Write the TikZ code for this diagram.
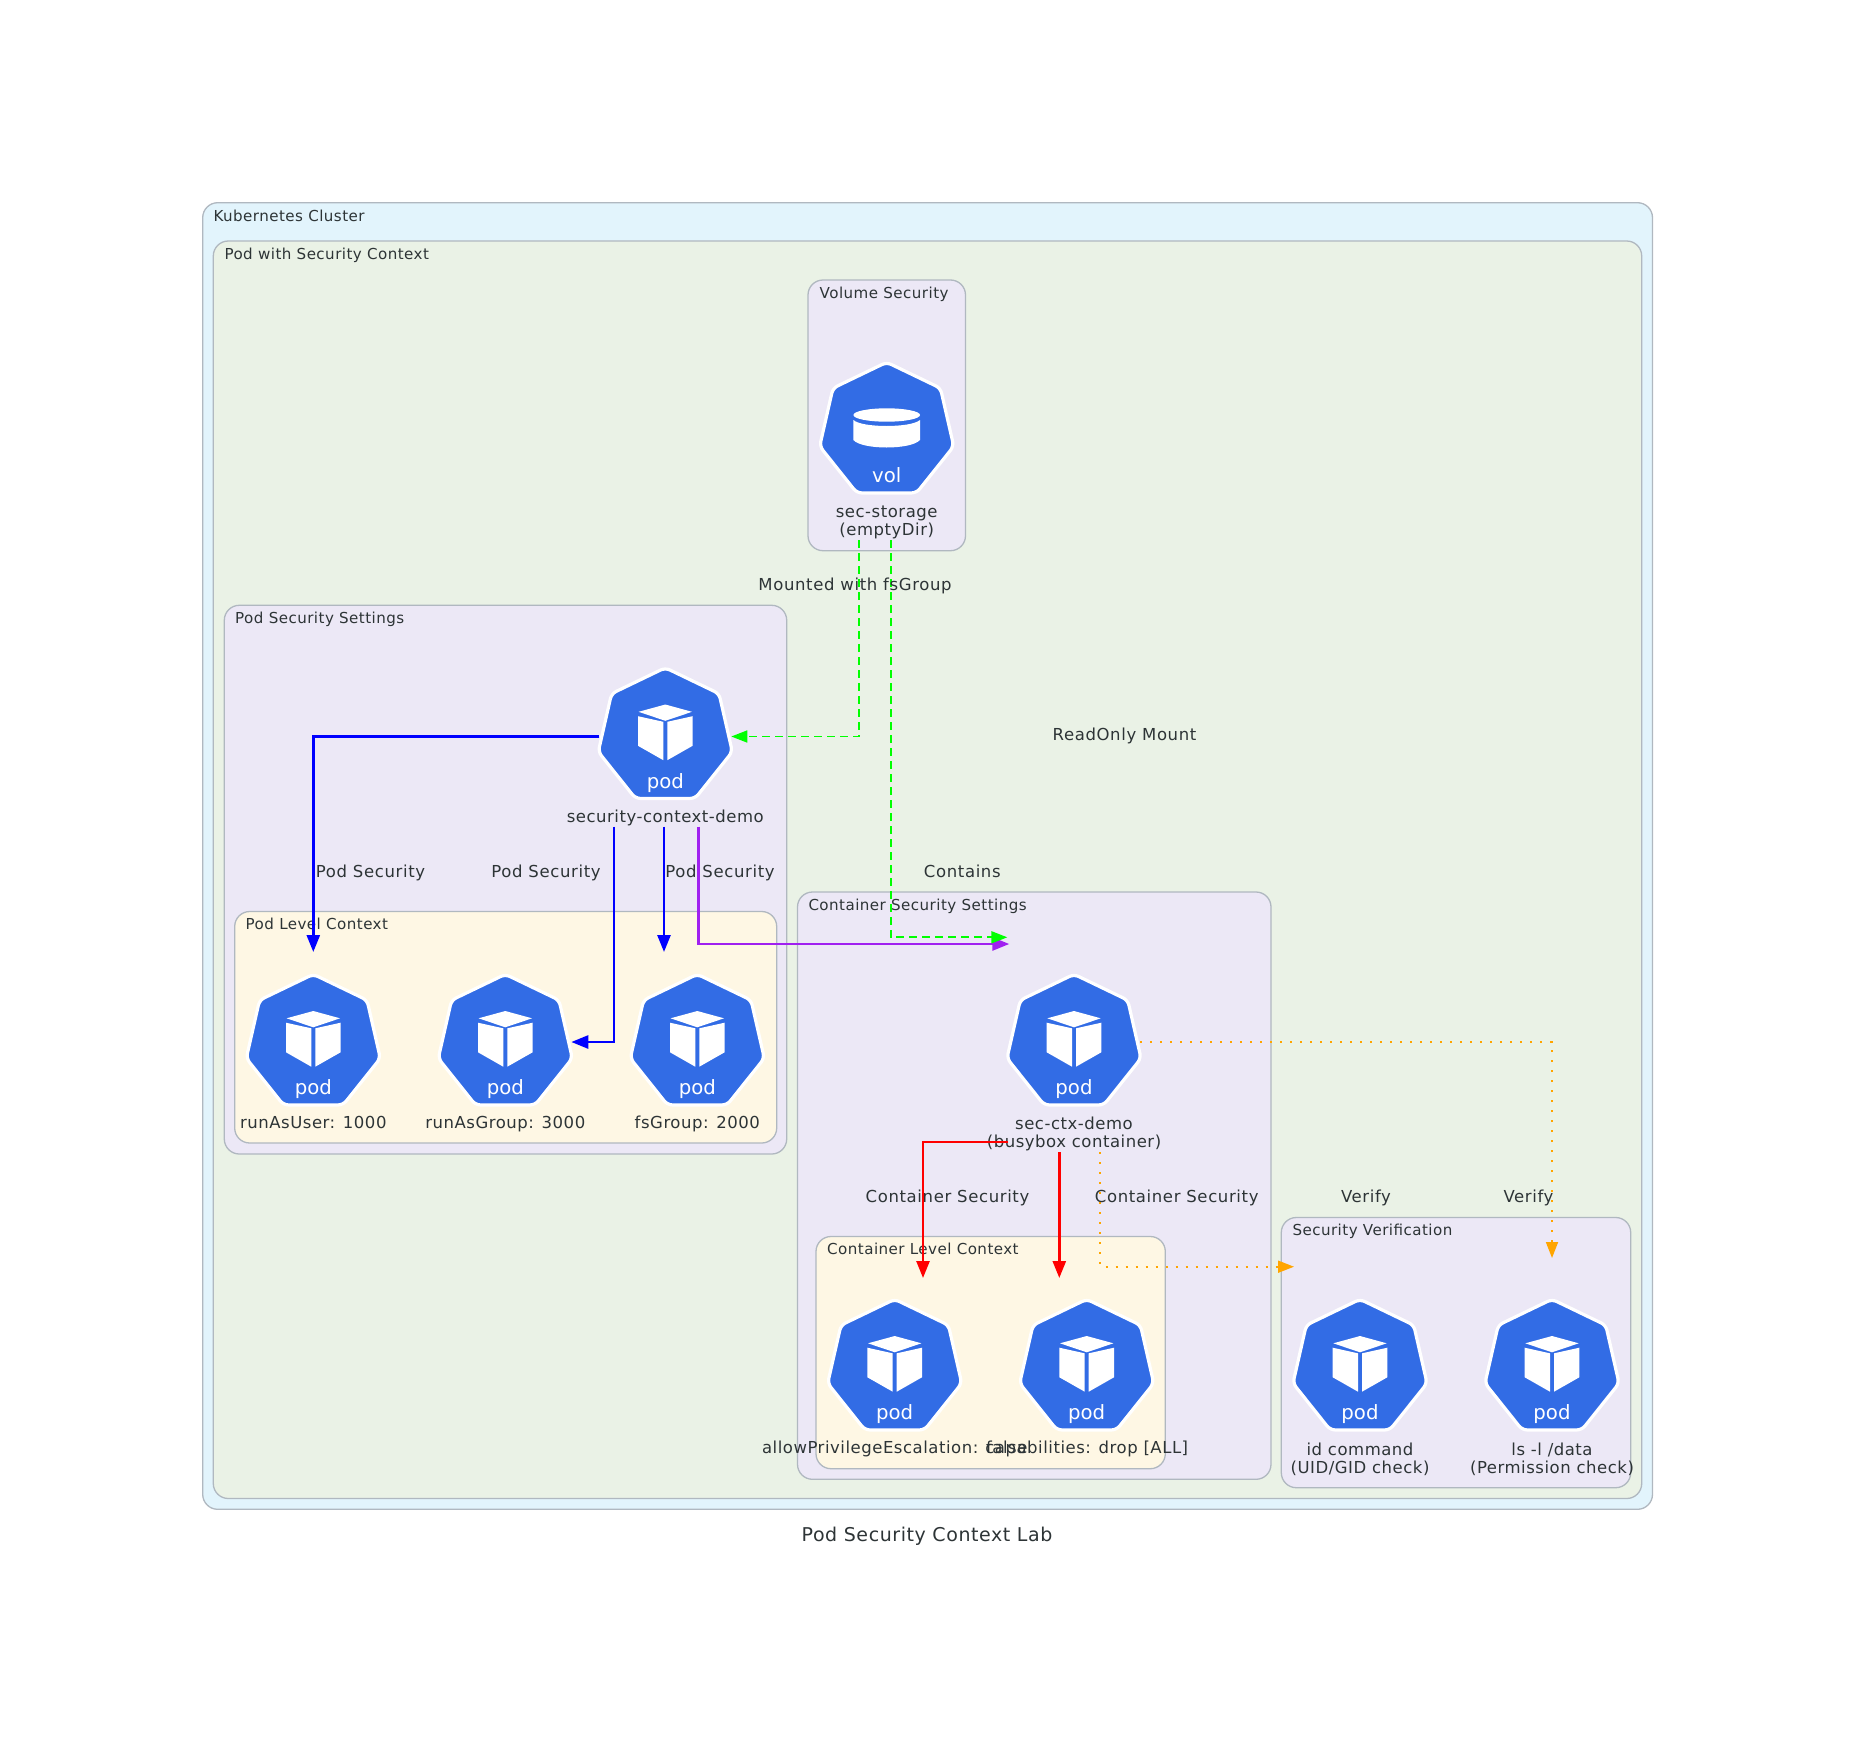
\documentclass[tikz,border=0pt]{standalone}
\usepackage{fontspec}
\setmainfont{DejaVu Sans}
\usetikzlibrary{calc,arrows.meta,shapes.geometric}
\definecolor{inktext}{HTML}{2D3436}
\definecolor{kubeblue}{HTML}{326CE5}
\definecolor{edgegray}{HTML}{B0B8C0}
\definecolor{clusterblue}{HTML}{E2F4FC}
\definecolor{podgreen}{HTML}{EAF2E6}
\definecolor{settingpurple}{HTML}{ECE8F6}
\definecolor{contextyellow}{HTML}{FEF7E4}
\definecolor{verifyorange}{HTML}{FFA500}
\definecolor{containspurple}{HTML}{A020F0}
\tikzset{
	clusterbox/.style={draw=edgegray, line width=1.3pt, rounded corners=15pt},
	clusterlab/.style={anchor=base west, inner sep=0pt, text=inktext, font=\fontsize{15.1}{17}\selectfont\addfontfeatures{LetterSpace=3}},
	podbox/.style={minimum width=132pt, minimum height=#1, inner sep=0pt, outer sep=0pt},
	hept/.style={regular polygon, regular polygon sides=7, minimum size=137.5pt, inner sep=0pt, outer sep=0pt, fill=kubeblue, draw=white, line width=3.2pt, rounded corners=5pt},
	kindlab/.style={anchor=base, inner sep=0pt, text=white, font=\fontsize{19.7}{22}\selectfont},
	nodelab/.style={inner sep=0pt, align=center, text=inktext, font=\fontsize{16.5}{18}\selectfont\addfontfeatures{LetterSpace=3.2}},
	flowlab/.style={anchor=base, inner sep=0pt, text=inktext, font=\fontsize{16.5}{18}\selectfont\addfontfeatures{LetterSpace=3.8}},
	solidflow/.style={line width=2.6pt, -{Triangle[length=17pt,width=13pt]}},
	dashflow/.style={line width=1.7pt, dash pattern=on 8pt off 5pt, -{Triangle[length=16pt,width=12pt]}},
	dotflow/.style={line width=1.7pt, dash pattern=on 2.2pt off 7.8pt, -{Triangle[length=16pt,width=12pt]}}
}
% pod icon: centre, name
\def\podicon(#1,#2)#3{
	\node[hept] (#3hept) at (#1,#2) {};
	\fill[white, shift={(#1,#2)}] (-27.3,-20.3) -- (-2,-14.7) -- (-2,23.7) -- (-27.3,9.3) -- cycle;
	\fill[white, shift={(#1,#2)}] (27.3,-20.3) -- (2,-14.7) -- (2,23.7) -- (27.3,9.3) -- cycle;
	\fill[white, shift={(#1,#2)}] (-26.7,-24.7) -- (0,-32) -- (26.7,-24.7) -- (0,-15.7) -- cycle;
	\node[kindlab] (#3kind) at (#1,#2+51.5) {pod};
}
\begin{document}
\begin{tikzpicture}[x=1pt,y=-1pt]
	\useasboundingbox (0,0) rectangle (1855,1745);
	
	% clusters
	\draw[clusterbox, fill=clusterblue] (202.7,202.7) rectangle (1652.5,1509.3);
	\node[clusterlab] (clusterlab) at (213.3,221) {Kubernetes Cluster};
	\draw[clusterbox, fill=podgreen] (213.3,241) rectangle (1641.7,1498.5);
	\node[clusterlab] (podctxlab) at (224.3,259) {Pod with Security Context};
	
	\draw[clusterbox, fill=settingpurple] (808,280) rectangle (965.5,550.7);
	\node[clusterlab] (vollab) at (819.5,298) {Volume Security};
	
	\draw[clusterbox, fill=settingpurple] (224.3,605.3) rectangle (786.7,1154);
	\node[clusterlab] (podsetlab) at (235,623) {Pod Security Settings};
	\draw[clusterbox, fill=contextyellow] (234.7,911.5) rectangle (776.7,1143);
	\node[clusterlab] (podlevlab) at (245.5,929) {Pod Level Context};
	
	\draw[clusterbox, fill=settingpurple] (797.5,892) rectangle (1271,1479.3);
	\node[clusterlab] (ctxsetlab) at (808.3,910) {Container Security Settings};
	\draw[clusterbox, fill=contextyellow] (816,1236.5) rectangle (1165.3,1468.7);
	\node[clusterlab] (ctxlevlab) at (827,1254.5) {Container Level Context};
	
	\draw[clusterbox, fill=settingpurple] (1281.3,1217.5) rectangle (1630.7,1487.7);
	\node[clusterlab] (verifylab) at (1292.3,1235.5) {Security Verification};
	
	% anchor boxes for the flows
	\node[podbox=220pt] (secstorage) at (886.7,431) {};
	\node[podbox=180pt] (secdemo) at (665.3,736.5) {};
	\node[podbox=180pt] (runuser) at (313.3,1042) {};
	\node[podbox=180pt] (rungroup) at (505.3,1042) {};
	\node[podbox=180pt] (fsgroup) at (697.3,1042) {};
	\node[podbox=220pt] (secctx) at (1074,1042) {};
	\node[podbox=180pt] (allowpriv) at (894.7,1368) {};
	\node[podbox=180pt] (capdrop) at (1086.7,1368) {};
	\node[podbox=220pt] (idcheck) at (1360,1368) {};
	\node[podbox=220pt] (lscheck) at (1552,1368) {};
	
	% pods
	\node[hept] (secstoragehept) at (886.7,431) {};
	\fill[white] (886.7,415) ellipse [x radius=33.3pt, y radius=6.7pt];
	\fill[white] (853.4,420) .. controls (862,428) and (911,428) .. (920,420) -- (920,440) .. controls (911,450) and (862,450) .. (853.4,440) -- cycle;
	\node[kindlab] (secstoragekind) at (886.7,482) {vol};
	
	\podicon(665.3,736.5){secdemo}
	\podicon(313.3,1043){runuser}
	\podicon(505.3,1043){rungroup}
	\podicon(697.3,1043){fsgroup}
	\podicon(1074,1043){secctx}
	\podicon(894.7,1368){allowpriv}
	\podicon(1086.7,1368){capdrop}
	\podicon(1360,1368){idcheck}
	\podicon(1552,1368){lscheck}
	
	% labels below the pods
	\node[nodelab] (secstoragelab) at (886.7,522.5) {sec-storage\\(emptyDir)};
	\node[nodelab, anchor=base] (secdemolab) at (665.3,822.3) {security-context-demo};
	\node[nodelab, anchor=base] (runuserlab) at (313.3,1128.3) {runAsUser: 1000};
	\node[nodelab, anchor=base] (rungrouplab) at (505.3,1128.3) {runAsGroup: 3000};
	\node[nodelab, anchor=base] (fsgrouplab) at (697.3,1128.3) {fsGroup: 2000};
	\node[nodelab] (secctxlab) at (1074,1133.5) {sec-ctx-demo\\(busybox container)};
	\node[nodelab, anchor=base] (allowprivlab) at (894.7,1453.3) {allowPrivilegeEscalation: false};
	\node[nodelab, anchor=base] (capdroplab) at (1086.7,1453.3) {capabilities: drop [ALL]};
	\node[nodelab] (idchecklab) at (1360,1459) {id command\\(UID/GID check)};
	\node[nodelab] (lschecklab) at (1552,1459) {ls -l /data\\(Permission check)};
	
	% free ends of the flows into the settings cluster
	\coordinate (mountend) at (1007.3,937.3);
	\coordinate (containsend) at (1009.3,944);
	
	% flows
	\draw[solidflow, blue] (secdemo.west) -| (runuser.north);
	\draw[solidflow, blue] ($(secdemo.south)+(-51.3,0)$) |- (rungroup.east);
	\draw[solidflow, blue] ($(secdemo.south)+(-1.3,0)$) -- ($(secdemo.south |- fsgroup.north)+(-1.3,0)$);
	\draw[solidflow, containspurple] ($(secdemo.south)+(33.4,0)$) |- (containsend);
	
	\draw[dashflow, green] ($(secstorage.south)+(-27.7,-1)$) |- (secdemo.east);
	\draw[dashflow, green] ($(secstorage.south)+(4,-1)$) |- (mountend);
	
	\draw[solidflow, red] ($(secctx.south west)+(0,-10)$) -| ($(allowpriv.north)+(28.3,0)$);
	\draw[solidflow, red] ($(secctx.south)+(-14.7,0)$) -- ($(capdrop.north)+(-27.4,0)$);
	
	\draw[dotflow, verifyorange] (secctx.east) -| (lscheck.north);
	\draw[dotflow, verifyorange] ($(secctx.south)+(26.3,0)$) |- ($(idcheck.north west)+(0,8.7)$);
	
	% flow labels
	\node[flowlab] (mountedlab) at (855,590.7) {Mounted with fsGroup};
	\node[flowlab] (readonlylab) at (1124.5,740) {ReadOnly Mount};
	\node[flowlab] (containslab) at (962.3,877) {Contains};
	\node[flowlab] (podsecalab) at (370.5,877) {Pod Security};
	\node[flowlab] (podsecblab) at (546,877) {Pod Security};
	\node[flowlab] (podsecclab) at (720,877) {Pod Security};
	\node[flowlab] (ctrsecalab) at (947.5,1202.7) {Container Security};
	\node[flowlab] (ctrsecblab) at (1176.7,1202.7) {Container Security};
	\node[flowlab] (verifyalab) at (1366,1202.7) {Verify};
	\node[flowlab] (verifyblab) at (1528.5,1202.7) {Verify};
	
	\node[anchor=base, inner sep=0pt, text=inktext, font=\fontsize{19}{21}\selectfont\addfontfeatures{LetterSpace=3}] (titlelab) at (927,1541.7) {Pod Security Context Lab};
\end{tikzpicture}
\end{document}
